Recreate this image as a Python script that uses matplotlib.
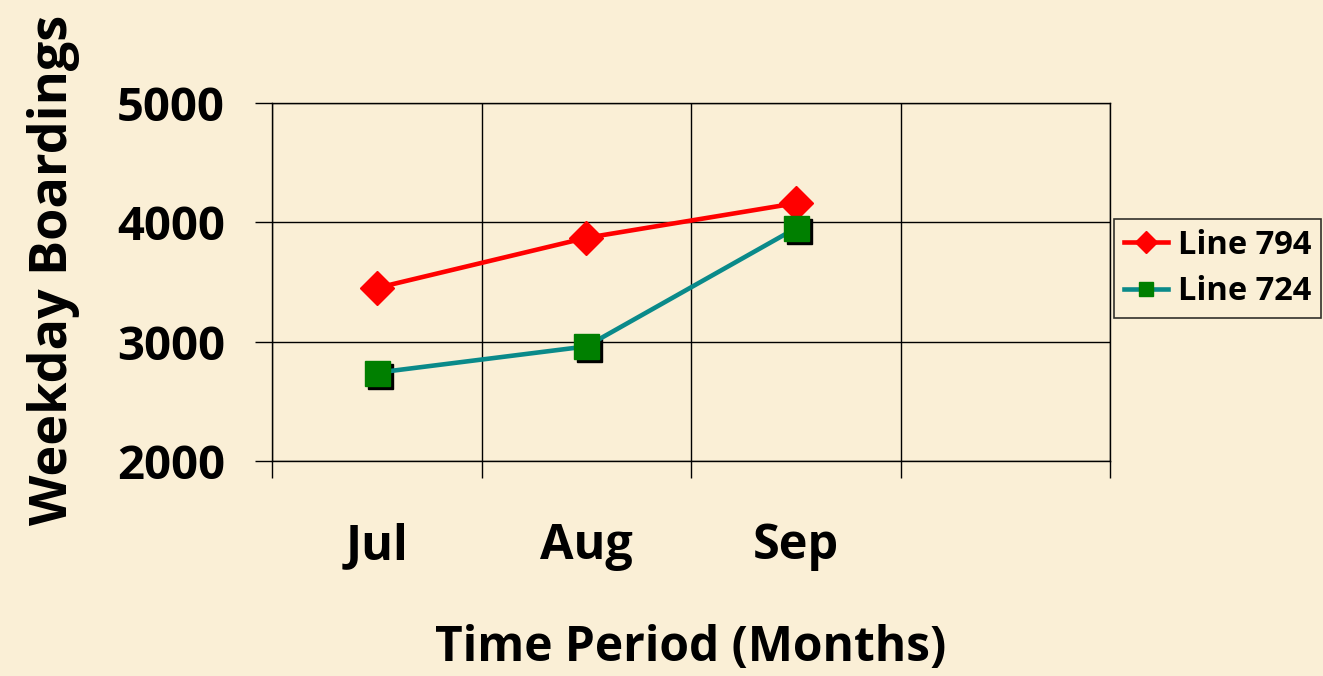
import matplotlib
matplotlib.use("Agg")
import matplotlib.pyplot as plt
import matplotlib.transforms as mtransforms

months = ["Jul", "Aug", "Sep"]
line794 = [3450, 3870, 4160]
line724 = [2740, 2960, 3950]
y_ticks = [2000, 3000, 4000, 5000]

bg = "#FAEFD6"
plt.rcParams['font.family'] = ['Open Sans', 'DejaVu Sans']
plt.rcParams['font.weight'] = 'bold'

fig = plt.figure(figsize=(13.23, 6.76), dpi=100, facecolor=bg)
ax = fig.add_axes([272/1323, 1-461/676, (1110-272)/1323, (461-103)/676])
ax.set_facecolor(bg)

xpos = [i + 0.5 for i in range(len(months))]

ax.plot(xpos, line794, color="#FF0000", lw=3.3, marker="D", markersize=17,
        markerfacecolor="#FF0000", markeredgecolor="#FF0000", label="Line 794", zorder=4)
shadow = mtransforms.offset_copy(ax.transData, fig=fig, x=3, y=-3, units='dots')
ax.plot(xpos, line724, ls="none", marker="s", markersize=18, color="black",
        transform=shadow, zorder=4.5)
ax.plot(xpos, line724, color="#0A8A8A", lw=3.3, marker="s", markersize=18,
        markerfacecolor="#007F00", markeredgecolor="#007F00", label="Line 724", zorder=5)

ax.set_xlim(0, 4)
ax.set_ylim(2000, 5000)
ax.set_yticks(y_ticks)
ax.set_yticklabels([str(v) for v in y_ticks], fontsize=34, fontweight='bold')
ax.set_xticks([0, 1, 2, 3, 4])
ax.set_xticklabels([])
ax.set_xticks(xpos, minor=True)
ax.set_xticklabels(months, minor=True, fontsize=35, fontweight='bold')
ax.tick_params(axis='x', which='minor', length=0, pad=44)
ax.tick_params(axis='x', which='major', direction='out', length=12, width=1, color='black')
ax.tick_params(axis='y', direction='out', length=12, width=1, pad=22, color='black')
ax.grid(True, which='major', color='black', lw=1)
for s in ax.spines.values():
    s.set_color('black')
    s.set_linewidth(1)

ax.set_xlabel("Time Period (Months)", fontsize=34.5, fontweight='bold', labelpad=38)
ax.set_ylabel("Weekday Boardings", fontsize=37.5, fontweight='bold')
ax.yaxis.set_label_coords((80 - 272) / 838, (461 - 270) / 358)

leg = ax.legend(loc='upper left', bbox_to_anchor=((1114 - 272) / 838, (461 - 219) / 358),
                borderaxespad=0, frameon=True, fancybox=False, edgecolor='black',
                facecolor=bg, handlelength=1.35, handletextpad=0.3, borderpad=0.3,
                labelspacing=0.42, prop={'weight': 'bold', 'size': 23.5})
leg.get_frame().set_linewidth(1.2)
handles = leg.legend_handles
handles[0].set_markersize(11)
handles[1].set_markersize(10.5)

fig.savefig("out.png", dpi=100, facecolor=bg)
